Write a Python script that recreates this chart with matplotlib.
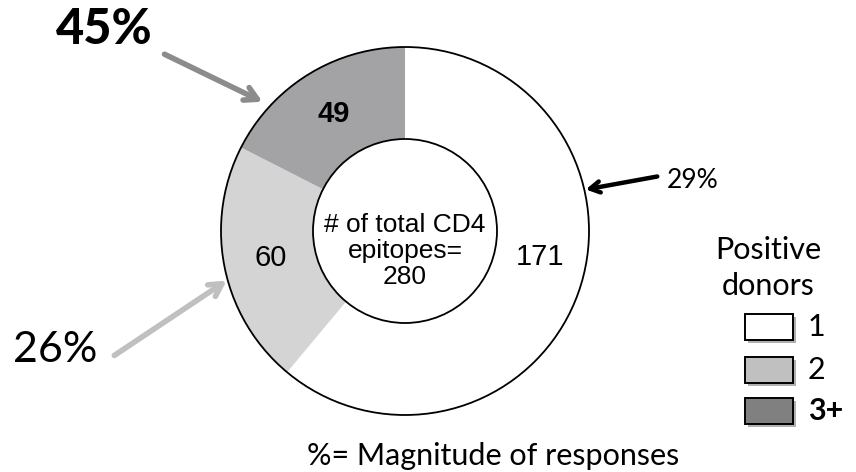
import matplotlib
matplotlib.use("Agg")
import matplotlib.pyplot as plt
from matplotlib.patches import Circle, Rectangle
import numpy as np

# ---- data ----
categories = ["1", "2", "3+"]
epitope_counts = [171, 60, 49]
total_epitopes = 280
magnitude_labels = ["29%", "26%", "45%"]
legend_title = "Positive\ndonors"
footnote = "%= Magnitude of responses"
center_text = "# of total CD4\nepitopes=\n280"

pie_colors = ["#ffffff", "#d4d4d4", "#a3a3a6"]
legend_colors = ["#ffffff", "#c0c0c0", "#808080"]

W, H = 856, 472
fig = plt.figure(figsize=(W / 100, H / 100), dpi=100)
ax = fig.add_axes([0, 0, 1, 1])
ax.set_xlim(0, W)
ax.set_ylim(0, H)
ax.set_aspect("equal")
ax.axis("off")

cx, cy = 405, H - 231
R = 184
ring = 92

wedges, _ = ax.pie(epitope_counts, colors=pie_colors, startangle=90,
                   counterclock=False, radius=R, center=(cx, cy),
                   wedgeprops=dict(width=ring, linewidth=0))
ax.set_xlim(0, W)
ax.set_ylim(0, H)
ax.add_patch(Circle((cx, cy), R, fill=False, ec="black", lw=1.3, zorder=3))
ax.add_patch(Circle((cx, cy), R - ring, fill=False, ec="black", lw=1.3, zorder=3))

arial = "Liberation Sans"
calibri = "Lato"

# value labels inside segments
angle_tweak = [9, 0, 0]
weights = ["normal", "normal", "bold"]
for w, val, tw, wt in zip(wedges, epitope_counts, angle_tweak, weights):
    mid = np.deg2rad((w.theta1 + w.theta2) / 2 + tw)
    rr = R - ring / 2 - 1
    ax.text(cx + rr * np.cos(mid), cy + rr * np.sin(mid), str(val),
            ha="center", va="center", fontsize=21, family=arial, weight=wt,
            zorder=4)

ax.text(cx, H - 251, center_text, ha="center", va="center", fontsize=19,
        family=arial, linespacing=1.08, zorder=4)

# magnitude annotations
ax.annotate("", xy=(265, H - 103), xytext=(162, H - 53),
            arrowprops=dict(arrowstyle="->,head_length=0.9,head_width=0.5",
                            color="#8c8c8c", lw=4))
ax.text(104, H - 29, magnitude_labels[2], ha="center", va="center",
        fontsize=35, family=calibri, weight="black")

ax.annotate("", xy=(229, H - 279), xytext=(112, H - 357),
            arrowprops=dict(arrowstyle="->,head_length=0.9,head_width=0.5",
                            color="#c0c0c0", lw=4))
ax.text(55, H - 350, magnitude_labels[1], ha="center", va="center",
        fontsize=31, family=calibri)

ax.annotate("", xy=(583, H - 190), xytext=(660, H - 176),
            arrowprops=dict(arrowstyle="->,head_length=0.7,head_width=0.4",
                            color="black", lw=3.2))
ax.text(693, H - 180, magnitude_labels[0], ha="center", va="center",
        fontsize=19, family=calibri)

# legend
ax.text(768, H - 268, legend_title, ha="center", va="center", fontsize=22,
        family=calibri, linespacing=1.35)
box_tops = [314, 357, 398]
for lab, col, top in zip(categories, legend_colors, box_tops):
    ax.add_patch(Rectangle((745 + 3, H - top - 26 - 3), 48, 26,
                           fc="#b0b0b0", ec="none", zorder=2))
    ax.add_patch(Rectangle((745, H - top - 26), 48, 26, fc=col,
                           ec="black", lw=1.4, zorder=3))
    ax.text(808, H - top - 13, lab, ha="left", va="center", fontsize=22,
            family=calibri, weight="bold" if lab == "3+" else "normal")

ax.text(493, H - 456, footnote, ha="center", va="center", fontsize=22,
        family=calibri)

fig.savefig("out.png", dpi=100)
